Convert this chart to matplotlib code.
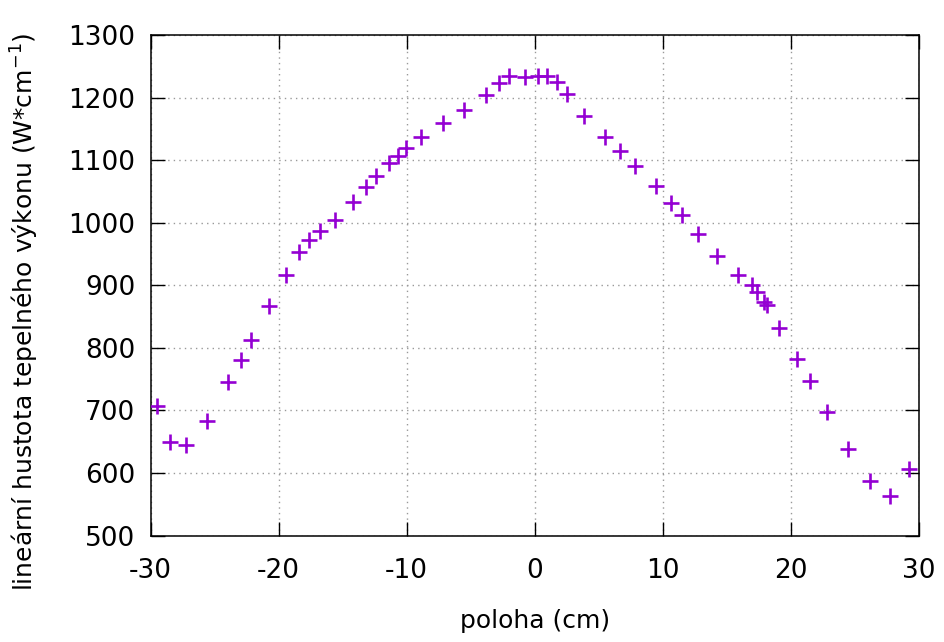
import matplotlib
matplotlib.use("Agg")
import matplotlib.pyplot as plt

# poloha (cm) a lineární hustota tepelného výkonu (W/cm)
poloha = [-29.53, -28.52, -27.22, -25.60, -23.93, -22.97, -22.19, -20.73,
          -19.43, -18.39, -17.63, -16.75, -15.58, -14.22, -13.20, -12.37,
          -11.36, -10.66, -10.05, -8.91, -7.19, -5.52, -3.83, -2.79,
          -2.01, -0.75, 0.23, 0.94, 1.72, 2.52, 3.83, 5.49,
          6.66, 7.81, 9.48, 10.65, 11.48, 12.76, 14.24, 15.88,
          16.95, 17.39, 17.91, 18.13, 19.11, 20.49, 21.51, 22.84,
          24.50, 26.20, 27.76, 29.27]
vykon = [707, 650, 645, 683, 746, 781, 813, 867,
         916, 954, 972, 987, 1005, 1033, 1057, 1074,
         1095, 1107, 1119, 1137, 1160, 1180, 1204, 1224,
         1234, 1233, 1234, 1235, 1225, 1205, 1171, 1137,
         1114, 1091, 1058, 1031, 1012, 982, 947, 916,
         900, 890, 873, 868, 831, 782, 747, 698,
         638, 587, 563, 607]

xticks = list(range(-30, 31, 10))
yticks = list(range(500, 1301, 100))

plt.rcParams['font.family'] = ['DejaVu Sans Condensed', 'DejaVu Sans']
plt.rcParams['font.size'] = 18
plt.rcParams['axes.unicode_minus'] = False

fig = plt.figure(figsize=(9.44, 6.42), dpi=100)
ax = fig.add_axes([0.1596, 0.1657, 0.8136, 0.7798])

ax.plot(poloha, vykon, linestyle='none', marker='+', markersize=11,
        markeredgewidth=1.9, color='#9400d3', zorder=3)

ax.set_xlim(-30, 30)
ax.set_ylim(500, 1300)
ax.set_xticks(xticks)
ax.set_yticks(yticks)
ax.grid(True, color='#999999', linestyle=(0, (1, 3)), linewidth=1.0)
ax.tick_params(direction='in', length=10, width=1, top=True, right=True,
               labelsize=19)
ax.tick_params(axis='x', pad=16)
ax.tick_params(axis='y', pad=11)
for s in ax.spines.values():
    s.set_linewidth(1.1)

ax.set_xlabel('poloha (cm)', labelpad=18)
ax.set_ylabel('lineární hustota tepelného výkonu (W*cm$^{\\mathregular{-1}}$)')
ax.yaxis.set_label_coords(-0.143, 0.447)

fig.savefig('out.png', dpi=100)
